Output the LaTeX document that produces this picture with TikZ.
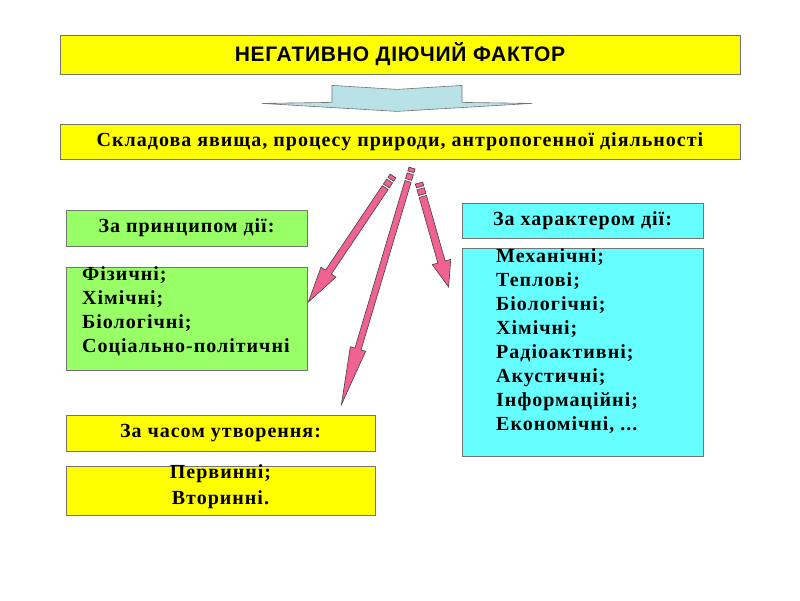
\documentclass[tikz,border=0pt]{standalone}
\usepackage{fontspec}
\setmainfont[LetterSpace=5]{Liberation Serif}
\setsansfont[LetterSpace=3.5]{Liberation Sans}
\usetikzlibrary{calc}

\definecolor{boxyellow}{HTML}{FFFF00}
\definecolor{boxgreen}{HTML}{99FF66}
\definecolor{boxcyan}{HTML}{66FFFF}
\definecolor{arrowpink}{HTML}{F06292}
\definecolor{arrowblue}{HTML}{B8E2E6}

\tikzset{
	box/.style={draw=black!55, line width=0.8pt, inner sep=0pt, font=\bfseries\fontsize{20}{24}\selectfont},
	listtext/.style={inner sep=0pt, align=left, font=\bfseries\fontsize{20}{24}\selectfont},
	blockarrow/.style={fill=arrowblue, draw=black!55, line width=0.6pt, line join=round},
	pinkarrow/.style={fill=arrowpink, draw=black!75, line width=0.6pt, line join=miter}
}

% striped arrow: start, tip, half shaft, half head, head length
\newcommand\stripearrow[5]{%
	\coordinate (sa1) at ($(#1)!4pt!(#2)$);
	\coordinate (sa2) at ($(#1)!6pt!(#2)$);
	\coordinate (sa3) at ($(#1)!12pt!(#2)$);
	\coordinate (sa4) at ($(#1)!14pt!(#2)$);
	\coordinate (sh) at ($(#2)!#5!(#1)$);
	\filldraw[pinkarrow] ($(#1)!#3!90:(#2)$) -- ($(#1)!#3!-90:(#2)$) -- ($(sa1)!#3!-90:(#2)$) -- ($(sa1)!#3!90:(#2)$) -- cycle;
	\filldraw[pinkarrow] ($(sa2)!#3!90:(#2)$) -- ($(sa2)!#3!-90:(#2)$) -- ($(sa3)!#3!-90:(#2)$) -- ($(sa3)!#3!90:(#2)$) -- cycle;
	\filldraw[pinkarrow] ($(sa4)!#3!90:(#2)$) -- ($(sh)!#3!90:(#2)$) -- ($(sh)!#4!90:(#2)$) -- (#2) -- ($(sh)!#4!-90:(#2)$) -- ($(sh)!#3!-90:(#2)$) -- ($(sa4)!#3!-90:(#2)$) -- cycle;
}

\begin{document}
\begin{tikzpicture}[x=1pt,y=-1pt]
	\fill[white] (0,0) rectangle (800,600);
	\useasboundingbox (0,0) rectangle (800,600);

	\node[box, fill=boxyellow, minimum width=680, minimum height=39, font=\sffamily\bfseries\fontsize{21}{24}\selectfont] (neg) at (400,54.5) {НЕГАТИВНО ДІЮЧИЙ ФАКТОР};
	\node[box, fill=boxyellow, minimum width=680, minimum height=35] (sklad) at (400,141.5) {Складова явища, процесу природи, антропогенної діяльності};

	\begin{scope}[shift={(neg.south)}]
		\draw[blockarrow] (-138,29) -- (-68,28) -- (-68,11) -- (-3,15) -- (62,11) -- (62,28) -- (132,29) -- (-3,37) -- cycle;
	\end{scope}

	\node[box, fill=boxgreen, minimum width=241, minimum height=36] (prin) at (186.5,228) {За принципом дії:};
	\node[box, fill=boxgreen, minimum width=241, minimum height=103] (fiz) at (186.5,319) {};
	\node[listtext, anchor=west] (fiztext) at (82,311.5) {Фізичні;\\Хімічні;\\Біологічні;\\Соціально-політичні};

	\node[box, fill=boxcyan, minimum width=241, minimum height=35] (har) at (582.5,220.5) {За характером дії:};
	\node[box, fill=boxcyan, minimum width=241, minimum height=208] (harlist) at (582.5,352) {};
	\node[listtext, anchor=west] (hartext) at (496,341) {Механічні;\\Теплові;\\Біологічні;\\Хімічні;\\Радіоактивні;\\Акустичні;\\Інформаційні;\\Економічні, ...};

	\node[box, fill=boxyellow, minimum width=309, minimum height=36] (chas) at (220.5,433) {За часом утворення:};
	\node[box, fill=boxyellow, minimum width=309, minimum height=49] (perv) at (220.5,490.5) {};
	\node[listtext, align=center] (pervtext) at (220.5,486.5) {Первинні;\\[2pt]Вторинні.};

	\coordinate (s1) at (393,176);
	\coordinate (s2) at (412,168);
	\coordinate (s3) at (419,183);
	\coordinate (e1) at ($(fiz.east)+(1,-17)$);
	\coordinate (e2) at ($(chas.north east)+(-34,-10)$);
	\coordinate (e3) at ($(harlist.west)+(-13,-65)$);
	\stripearrow{s1}{e1}{3.5pt}{9pt}{36pt}
	\stripearrow{s2}{e2}{3.2pt}{8pt}{58pt}
	\stripearrow{s3}{e3}{3.8pt}{9.6pt}{26pt}
\end{tikzpicture}
\end{document}
